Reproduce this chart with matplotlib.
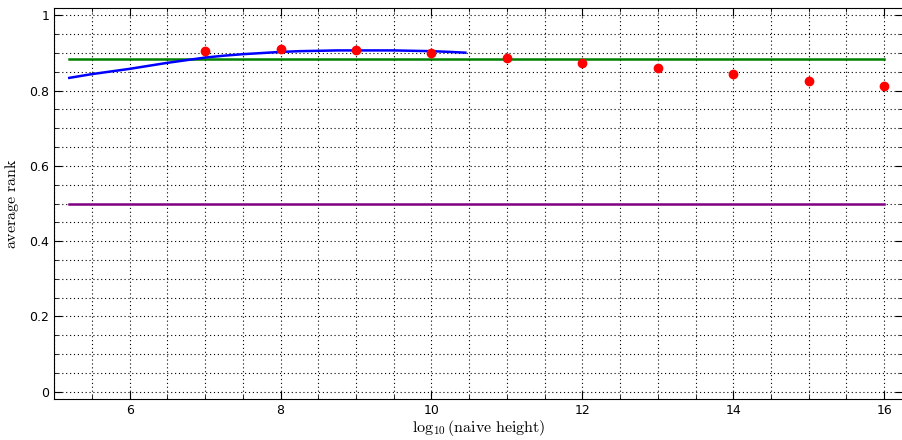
import matplotlib
matplotlib.use("Agg")
import matplotlib.pyplot as plt
from matplotlib.ticker import MultipleLocator, FuncFormatter

plt.rcParams["mathtext.fontset"] = "cm"

# red points: average rank at integer log10 heights
dot_x = [7, 8, 9, 10, 11, 12, 13, 14, 15, 16]
dot_y = [0.905, 0.910, 0.907, 0.899, 0.886, 0.873, 0.860, 0.844, 0.825, 0.812]

# blue curve
curve_x = [5.2, 5.5, 5.75, 6.0, 6.25, 6.5, 6.75, 7.0, 7.25, 7.5, 7.75, 8.0, 8.25,
           8.5, 8.75, 9.0, 9.25, 9.5, 9.75, 10.0, 10.25, 10.45]
curve_y = [0.834, 0.844, 0.851, 0.858, 0.866, 0.874, 0.881, 0.888, 0.893, 0.897, 0.900,
           0.903, 0.905, 0.906, 0.907, 0.907, 0.907, 0.907, 0.906, 0.905, 0.903, 0.901]

# horizontal reference levels
green_level = 0.883
purple_level = 0.5
hline_x = [5.2, 16]

fig = plt.figure(figsize=(9.03, 4.40), dpi=100)
ax = fig.add_axes([0.06, 0.093, 0.94, 0.889])

ax.plot(hline_x, [green_level] * 2, color="green", lw=1.8)
ax.plot(hline_x, [purple_level] * 2, color="purple", lw=1.8)
ax.plot(curve_x, curve_y, color="blue", lw=1.8)
ax.plot(dot_x, dot_y, "o", color="red", ms=6, mec="red")

ax.set_xlim(5.0, 16.25)
ax.set_ylim(-0.02, 1.02)
ax.xaxis.set_major_locator(MultipleLocator(2))
ax.xaxis.set_minor_locator(MultipleLocator(0.5))
ax.yaxis.set_major_locator(MultipleLocator(0.2))
ax.yaxis.set_minor_locator(MultipleLocator(0.05))
ax.yaxis.set_major_formatter(FuncFormatter(lambda v, p: "%g" % round(v, 2)))

ax.grid(True, which="both", color="black", linestyle=(0, (1, 2.5)), linewidth=0.8)
ax.set_axisbelow(True)
ax.tick_params(which="both", direction="in", top=True, right=True, labelsize=9)
ax.tick_params(which="major", length=6)
ax.tick_params(which="minor", length=3)

ax.set_xlabel(r"$\log_{10}(\mathrm{naive\ height})$", fontsize=11.5, labelpad=1)
ax.set_ylabel(r"$\mathrm{average\ rank}$", fontsize=11.5, labelpad=6)

fig.savefig("out.png", dpi=100)
